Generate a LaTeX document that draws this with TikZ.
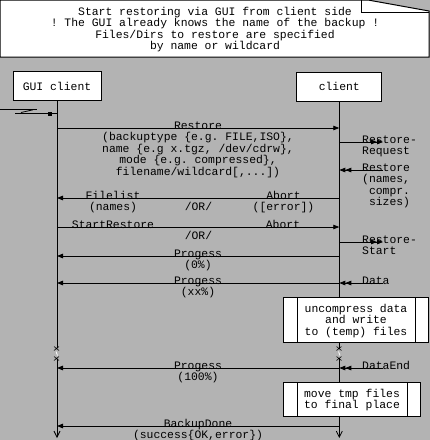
\documentclass[tikz,border=0pt]{standalone}
\usepackage{fontspec}
\setmonofont{Liberation Mono}
\usepackage{tikz}
\usetikzlibrary{arrows.meta,calc,positioning}
\definecolor{canvas}{HTML}{B3B3B3}

\begin{document}
\begin{tikzpicture}[x=1pt,y=-1pt,
  font=\ttfamily\fontsize{11.4}{11.5}\selectfont,
  every node/.style={inner sep=0pt},
  entity/.style={draw,line width=1pt,fill=white,minimum height=29pt},
  life/.style={line width=0.8pt},
  msg/.style={line width=0.8pt,-{Triangle[length=6pt,width=4.5pt]}},
  ext/.style={line width=0.8pt,-{Triangle[length=6pt,width=4.5pt]Triangle[length=6pt,width=4.5pt]}},
  lbl/.style={anchor=base,align=center},
  rlbl/.style={anchor=base west,align=left},
  action/.style={draw,line width=1pt,fill=white}]
  \fill[canvas] (0,0) rectangle (430,440);
  \useasboundingbox (0,0) rectangle (430,440);
  % note at the top, corner folded (base = last line)
  \draw[fill=white,line width=1pt] (0,0) -- (368,0) -- (429,11) -- (429,57) -- (0,57) -- cycle;
  \draw[line width=0.8pt] (361,0) -- (361,12) -- (429,12);
  \node[lbl] (note) at (215,49.5) {Start restoring via GUI from client side\\! The GUI already knows the name of the backup !\\Files/Dirs to restore are specified\\by name or wildcard};
  % entities
  \node[entity,minimum width=88pt] (gui) at (57,86) {GUI client};
  \node[entity,minimum width=85pt] (cli) at (339.3,86.5) {client};
  % lifelines, broken at y=348..359
  \draw[life] (gui.south) -- (gui.south |- 0,348);
  \draw[life] (cli.south) -- (cli.south |- 0,348);
  \draw[life,-{Straight Barb[length=6pt,width=6pt]}] (gui.south |- 0,359) -- (gui.south |- 0,438);
  \draw[life,-{Straight Barb[length=6pt,width=6pt]}] (cli.south |- 0,359) -- (cli.south |- 0,438);
  \draw[line width=0.6pt] (54,346.5) -- (59,350.5) (54,350.5) -- (59,346.5)
    (54,356.5) -- (59,360.5) (54,360.5) -- (59,356.5);
  \draw[line width=0.6pt] (336.5,346.5) -- (341.5,350.5) (336.5,350.5) -- (341.5,346.5)
    (336.5,356.5) -- (341.5,360.5) (336.5,360.5) -- (341.5,356.5);
  \draw[white,line width=0.8pt] (56,351.5) -- (57.5,355.5);
  \draw[white,line width=0.8pt] (338.5,351.5) -- (340,355.5);
  % found message at the start
  \coordinate (s0) at (0,109);
  \coordinate (s1) at (37,109);
  \coordinate (s2) at (15,113.5);
  \coordinate (g0) at (gui.south |- 0,113.5);
  \draw[line width=0.8pt] (s0) -- (s1);
  \draw[line width=0.8pt] (s2) -- (g0);
  \draw[line width=0.8pt] (21,112.5) -- (33,109.8);
  \fill (48,111.5) rectangle (52,115.5);
  % Restore (first baseline 129, +11.5 per line)
  \coordinate (g1) at (gui.south |- 0,128);
  \coordinate (c1) at (cli.south |- 0,128);
  \draw[msg] (g1) -- (c1);
  \node[lbl] (restore) at (198,175) {Restore\\(backuptype \{e.g. FILE,ISO\},\\name \{e.g x.tgz, /dev/cdrw\},\\mode \{e.g. compressed\},\\filename/wildcard[,...])};
  % Restore-Request / Restore
  \coordinate (c2) at (cli.south |- 0,142);
  \coordinate (x2) at (383,142);
  \draw[ext] (c2) -- (x2);
  \node[rlbl] (rreq) at (362,154.5) {Restore-\\Request};
  \coordinate (x3) at (383,170);
  \coordinate (c3) at (cli.south |- 0,170);
  \draw[ext] (x3) -- (c3);
  \node[rlbl] (rsizes) at (362,205.5) {Restore\\(names,\\\hphantom{(}compr.\\\hphantom{(}sizes)};
  % Filelist /OR/ Abort
  \coordinate (c4) at (cli.south |- 0,198);
  \coordinate (g4) at (gui.south |- 0,198);
  \draw[msg] (c4) -- (g4);
  \node[lbl] (filelist) at (113,210.5) {Filelist\\(names)};
  \node[lbl] (or1) at (198.5,210.5) {/OR/};
  \node[lbl] (abort1) at (283.5,210.5) {Abort\\([error])};
  % StartRestore /OR/ Abort
  \coordinate (g5) at (gui.south |- 0,227);
  \coordinate (c5) at (cli.south |- 0,227);
  \draw[msg] (g5) -- (c5);
  \node[lbl] (start) at (113,228) {StartRestore};
  \node[lbl] (abort2) at (283,228) {Abort};
  \node[lbl] (or2) at (198.5,239.5) {/OR/};
  \coordinate (c6) at (cli.south |- 0,242);
  \coordinate (x6) at (383,242);
  \draw[ext] (c6) -- (x6);
  \node[rlbl] (rstart) at (362,254.5) {Restore-\\Start};
  % progress
  \coordinate (c7) at (cli.south |- 0,256);
  \coordinate (g7) at (gui.south |- 0,256);
  \draw[msg] (c7) -- (g7);
  \node[lbl] (prog0) at (198,268.5) {Progess\\(0\%)};
  \coordinate (x8) at (383,283);
  \coordinate (c8) at (cli.south |- 0,283);
  \coordinate (g8) at (gui.south |- 0,283);
  \draw[ext] (x8) -- (c8);
  \node[rlbl] (data) at (362,284) {Data};
  \draw[msg] (c8) -- (g8);
  \node[lbl] (progxx) at (198,295.5) {Progess\\(xx\%)};
  % uncompress
  \node[action,minimum width=145pt,minimum height=45pt] (unzip) at (355.5,319.5) {};
  \draw[line width=0.8pt] (297,297) -- (297,342) (415,297) -- (415,342);
  \node[align=center] (unzipt) at (356,321) {uncompress data\\and write\\to (temp) files};
  % DataEnd / Progess 100%
  \coordinate (x9) at (383,368);
  \coordinate (c9) at (cli.south |- 0,368);
  \coordinate (g9) at (gui.south |- 0,368);
  \draw[ext] (x9) -- (c9);
  \node[rlbl] (dataend) at (362,369) {DataEnd};
  \draw[msg] (c9) -- (g9);
  \node[lbl] (prog100) at (198,380.5) {Progess\\(100\%)};
  % move files
  \node[action,minimum width=137pt,minimum height=34pt] (move) at (351.5,399) {};
  \draw[line width=0.8pt] (297,382) -- (297,416) (407,382) -- (407,416);
  \node[align=center] (movet) at (352,400) {move tmp files\\to final place};
  % BackupDone
  \coordinate (c10) at (cli.south |- 0,426);
  \coordinate (g10) at (gui.south |- 0,426);
  \draw[msg] (c10) -- (g10);
  \node[lbl] (done) at (198,438.5) {BackupDone\\(success\{OK,error\})};
\end{tikzpicture}
\end{document}
